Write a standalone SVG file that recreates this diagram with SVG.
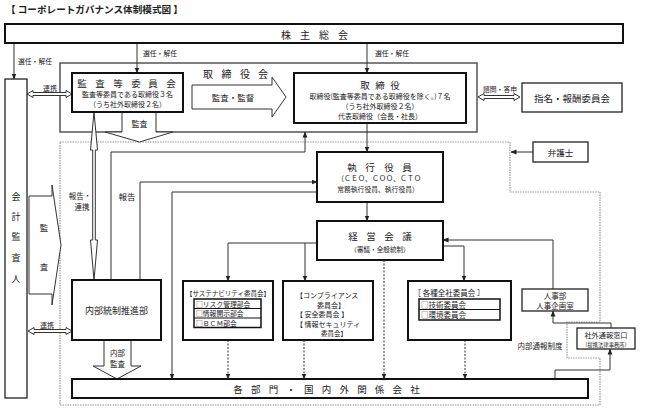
<svg xmlns="http://www.w3.org/2000/svg" width="648" height="412" viewBox="0 0 648 412">
<defs>
<style>
text{font-family:"Noto Sans CJK JP","Noto Sans CJK SC",sans-serif;fill:#222;dominant-baseline:central}
.c{text-anchor:middle}
.box{fill:#fff;stroke:#111;stroke-width:2}
.thin{fill:#fff;stroke:#222;stroke-width:1.3}
.ln{fill:none;stroke:#333;stroke-width:1}
.ar{marker-end:url(#ah)}
.dot{fill:none;stroke:#333;stroke-width:1;stroke-dasharray:2,1.5}
.blk{fill:#fff;stroke:#333;stroke-width:1}
.bound{fill:none;stroke:#999;stroke-width:1.2;stroke-dasharray:1.5,1}
</style>
<marker id="ah" viewBox="0 0 6 6" markerWidth="6" markerHeight="6" refX="5.5" refY="3" orient="auto" markerUnits="userSpaceOnUse"><path d="M0,0.6 L6,3 L0,5.4z" fill="#222"/></marker>
</defs>
<rect width="648" height="412" fill="#fff"/>
<text x="6" y="9" font-size="9.6" font-weight="bold">【 コーポレートガバナンス体制模式図 】</text>

<!-- frames -->
<g id="board-frame">
<rect x="60" y="63" width="417" height="69" fill="none" stroke="#555" stroke-width="1.5"/>
<text class="c" x="208 226.5 245 263" y="73" font-size="10">取締役会</text>
</g>
<polygon id="exec-area" class="bound" points="60,142 510,142 510,192 600,192 600,322 567,322 567,358 600,358 600,405 60,405"/>

<g id="connectors">
<line class="ln ar" x1="14" y1="43" x2="14" y2="79"/>
<line class="ln ar" x1="137" y1="43" x2="137" y2="73"/>
<line class="ln ar" x1="367" y1="43" x2="367" y2="73"/>
<line class="ln ar" x1="367" y1="123" x2="367" y2="152"/>
<line class="ln ar" x1="367" y1="202" x2="367" y2="221"/>
<polyline class="ln ar" points="111,280 111,152 305,152 305,132"/>
<polyline class="ln ar" points="140,280 140,182 317,182"/>
<polyline class="ln ar" points="317,192 172,192 172,379"/>
<polyline class="ln ar" points="317,243 228,243 228,281"/>
<line class="ln ar" x1="305" y1="243" x2="305" y2="281"/>
<polyline class="ln ar" points="443,246 464,246 464,281"/>
<polyline class="ln ar" points="553,289 553,240 443,240"/>
<polyline class="ln ar" points="611,328 611,323 553,323 553,311"/>
<polyline class="ln ar" points="555,379 555,370 610,370 610,349"/>
<line class="ln ar" x1="533" y1="152" x2="511" y2="152"/>
<line class="dot ar" x1="228" y1="340" x2="228" y2="379"/>
<line class="dot ar" x1="304" y1="340" x2="304" y2="379"/>
<line class="dot ar" x1="384" y1="260" x2="384" y2="379"/>
<line class="dot ar" x1="465" y1="340" x2="465" y2="379"/>
<!-- hollow double arrows -->
<polygon class="blk" points="27,94 33,90.5 33,92.5 66,92.5 66,90.5 72,94 66,97.5 66,95.5 33,95.5 33,97.5"/>
<polygon class="blk" points="28,331 34,327.5 34,329.5 66,329.5 66,327.5 72,331 66,334.5 66,332.5 34,332.5 34,334.5"/>
<polygon class="blk" points="478,97 484,93.5 484,95.5 514,95.5 514,93.5 520,97 514,100.5 514,98.5 484,98.5 484,100.5"/>
<polygon class="blk" points="94,112 97.5,150 95.3,150 95.3,240 97.5,240 94,280 90.5,240 92.7,240 92.7,150 90.5,150"/>
<!-- block arrows -->
<polygon class="blk" points="192,85 272,85 272,77 286,97 272,117 272,109 192,109"/>
<polygon class="blk" points="122,112 156,112 156,132 173,132 139.5,142 105,132 122,132"/>
<polygon class="blk" points="29,196 52,196 52,185 61,245 52,305 52,294 29,294"/>
<polygon class="blk" points="104,340 131,340 131,366 141,366 117,379 93,366 104,366"/>
<text class="c" x="233" y="97" font-size="8.5">監査・監督</text>
<text class="c" x="139.5" y="123.5" font-size="8">監査</text>
<text class="c" x="44" y="227" font-size="8.5">監</text>
<text class="c" x="44" y="266" font-size="8.5">査</text>
<text class="c" x="117.5" y="352.5" font-size="7.5">内部</text>
<text class="c" x="117.5" y="363.5" font-size="7.5">監査</text>
<!-- labels -->
<text class="c" x="35" y="61" font-size="6.8">選任・解任</text>
<text class="c" x="160" y="53" font-size="6.8">選任・解任</text>
<text class="c" x="392" y="53" font-size="6.8">選任・解任</text>
<text class="c" x="500" y="89" font-size="6.8">諮問・答申</text>
<text class="c" x="50" y="88" font-size="7">連携</text>
<text class="c" x="47" y="325" font-size="7">連携</text>
<text class="c" x="80" y="195.5" font-size="7.5">報告・</text>
<text class="c" x="82" y="206" font-size="7.5">連携</text>
<text class="c" x="127" y="196" font-size="8.5">報告</text>
<text class="c" x="540" y="345" font-size="7.5">内部通報制度</text>
</g>

<g id="shareholders">
<rect class="box" x="5" y="24" width="618" height="19"/>
<text class="c" x="286 305 324 343" y="34" font-size="10">株主総会</text>
</g>
<g id="auditor">
<rect class="thin" x="5" y="79" width="22" height="319"/>
<text class="c" x="16" y="196" font-size="9">会</text>
<text class="c" x="16" y="216" font-size="9">計</text>
<text class="c" x="16" y="236" font-size="9">監</text>
<text class="c" x="16" y="257" font-size="9">査</text>
<text class="c" x="16" y="278" font-size="9">人</text>
</g>
<g id="audit-committee">
<rect class="box" x="72" y="73" width="111" height="39"/>
<text class="c" x="82 100 118 136 153 171" y="82.5" font-size="9.5">監査等委員会</text>
<text class="c" x="127.5" y="94" font-size="7">監査等委員である取締役３名</text>
<text class="c" x="127.5" y="104" font-size="7">（うち社外取締役２名）</text>
</g>
<g id="directors">
<rect class="box" x="294" y="73" width="172" height="50"/>
<text class="c" x="365 380 395" y="85" font-size="9.5">取締役</text>
<text class="c" x="380" y="96" font-size="7">取締役(監査等委員である取締役を除く。)７名</text>
<text class="c" x="380" y="106" font-size="7">（うち社外取締役２名）</text>
<text class="c" x="380" y="116" font-size="7">代表取締役（会長・社長）</text>
</g>
<g id="nomination">
<rect class="thin" x="522" y="83" width="100" height="29" stroke-width="1.6"/>
<text class="c" x="572" y="98" font-size="9.5">指名・報酬委員会</text>
</g>
<g id="lawyer">
<rect class="thin" x="533" y="142" width="55" height="20"/>
<text class="c" x="560.5" y="152" font-size="8.5">弁護士</text>
</g>
<g id="officers">
<rect class="box" x="317" y="152" width="126" height="50"/>
<text class="c" x="352 370 389 407" y="166.5" font-size="9.5">執行役員</text>
<text class="c" x="379" y="178" font-size="7">（ＣＥＯ、ＣＯＯ、ＣＴＯ</text>
<text class="c" x="378" y="188.5" font-size="6.8">常務執行役員、執行役員）</text>
</g>
<g id="management">
<rect class="box" x="317" y="221" width="126" height="39"/>
<text class="c" x="353 371 389 407" y="236" font-size="9.5">経営会議</text>
<text class="c" x="380" y="248.5" font-size="6.6">（審議・全般統制）</text>
</g>
<g id="internal-control">
<rect class="box" x="72" y="280" width="89" height="60"/>
<text class="c" x="116.5" y="310" font-size="9">内部統制推進部</text>
</g>
<g id="sustainability">
<rect class="box" x="183" y="281" width="90" height="59"/>
<text class="c" x="228" y="292.5" font-size="6.5">【サステナビリティ委員会】</text>
<rect x="194" y="299" width="67" height="28.5" fill="#fff" stroke="#111" stroke-width="1.5"/>
<line x1="194" y1="308.5" x2="261" y2="308.5" stroke="#111" stroke-width="1.2"/>
<line x1="194" y1="318" x2="261" y2="318" stroke="#111" stroke-width="1.2"/>
<text x="196" y="303.8" font-size="6.8">□リスク管理部会</text>
<text x="196" y="313.3" font-size="6.8">□情報開示部会</text>
<text x="196" y="322.8" font-size="6.8">□ＢＣＭ部会</text>
</g>
<g id="compliance">
<rect class="box" x="283" y="281" width="90" height="59"/>
<text x="296" y="295" font-size="7">【コンプライアンス</text>
<text class="c" x="331" y="304.5" font-size="7">委員会】</text>
<text x="296" y="314" font-size="7">【 安全委員会 】</text>
<text x="296" y="323.5" font-size="7">【 情報セキュリティ</text>
<text class="c" x="334" y="332.8" font-size="6.5">委員会】</text>
</g>
<g id="company-committees">
<rect class="box" x="408" y="281" width="103" height="59"/>
<text class="c" x="449" y="292" font-size="7.5">［ 各種全社委員会 ］</text>
<rect x="419" y="299" width="81" height="21" fill="#fff" stroke="#111" stroke-width="1.5"/>
<line x1="419" y1="309.5" x2="500" y2="309.5" stroke="#111" stroke-width="1.2"/>
<text x="421" y="304.3" font-size="7.5">□技術委員会</text>
<text x="421" y="314.8" font-size="7.5">□環境委員会</text>
</g>
<g id="hr">
<rect class="thin" x="522" y="289" width="66" height="22"/>
<text class="c" x="555" y="295.3" font-size="7.5">人事部</text>
<text class="c" x="555" y="305.3" font-size="7.5">人事企画室</text>
</g>
<g id="hotline">
<rect class="thin" x="577" y="328" width="58" height="21"/>
<text class="c" x="606" y="335" font-size="7.2">社外通報窓口</text>
<text class="c" x="606" y="344.5" font-size="5.3">（提携法律事務所）</text>
</g>
<g id="departments">
<rect class="box" x="72" y="379" width="516" height="19"/>
<text class="c" x="238 255.7 273.4 291.1 308.8 326.5 344.2 361.9 379.6 397.3 415" y="389" font-size="9.5">各部門・国内外関係会社</text>
</g>
</svg>
